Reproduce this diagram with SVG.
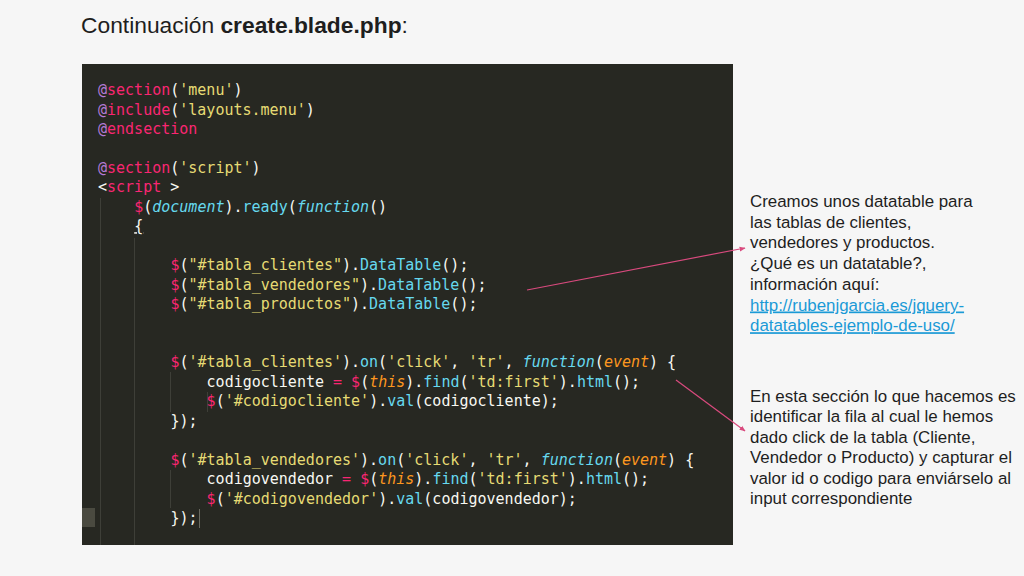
<svg xmlns="http://www.w3.org/2000/svg" width="1024" height="576" viewBox="0 0 1024 576">
<style>
.code{font-family:"DejaVu Sans Mono","Liberation Mono",monospace;font-size:15px;fill:#f8f8f2}
.p{fill:#f92672}.y{fill:#e6db74}.c{fill:#66d9ef}.ci{fill:#66d9ef;font-style:italic}.o{fill:#fd971f;font-style:italic}.a{fill:#b57bd6}
.note{font-family:"Liberation Sans",Arial,sans-serif;font-size:16.9px;fill:#1e1e1e}
.link{fill:#1b9ad6;text-decoration:underline}
.guide{stroke:#3e3f38;stroke-width:1}
.conn{stroke:#d94a7e;stroke-width:1.2;fill:none}
</style>
<defs>
<marker id="ah" viewBox="0 0 10 10" refX="9" refY="5" markerWidth="6" markerHeight="6" orient="auto" markerUnits="userSpaceOnUse">
<path d="M0,1 L10,5 L0,9 z" fill="#d94a7e"/>
</marker>
</defs>
<rect width="1024" height="576" fill="#f6f6f6"/>
<g id="title">
<text x="81" y="33" font-family="'Liberation Sans',Arial,sans-serif" font-size="22.8" fill="#1e1e1e">Continuación <tspan font-weight="bold">create.blade.php</tspan>:</text>
</g>
<g id="code-panel">
<rect x="82" y="64" width="651" height="481" fill="#272822"/>
<line class="guide" x1="100.5" y1="198" x2="100.5" y2="545"/>
<line class="guide" x1="134.5" y1="238" x2="134.5" y2="545"/>
<line class="guide" x1="170.5" y1="372" x2="170.5" y2="412"/>
<line class="guide" x1="170.5" y1="470" x2="170.5" y2="508"/>
<line class="guide" x1="207.5" y1="392" x2="207.5" y2="412"/>
<rect x="82" y="508" width="13" height="19" fill="#4a4a40"/>
<line x1="199.5" y1="509" x2="199.5" y2="528" stroke="#6a6a60" stroke-width="1"/>
<text class="code" xml:space="preserve">
<tspan x="98" y="95"><tspan class="a">@</tspan><tspan class="p">section</tspan>(<tspan class="y">'menu'</tspan>)</tspan>
<tspan x="98" y="114.5"><tspan class="a">@</tspan><tspan class="p">include</tspan>(<tspan class="y">'layouts.menu'</tspan>)</tspan>
<tspan x="98" y="134"><tspan class="a">@</tspan><tspan class="p">endsection</tspan></tspan>
<tspan x="98" y="172.8"><tspan class="a">@</tspan><tspan class="p">section</tspan>(<tspan class="y">'script'</tspan>)</tspan>
<tspan x="98" y="192.3">&lt;<tspan class="p">script</tspan> &gt;</tspan>
<tspan x="134.2" y="211.7"><tspan class="p">$</tspan>(<tspan class="ci">document</tspan>).<tspan class="c">ready</tspan>(<tspan class="ci">function</tspan>()</tspan>
<tspan x="134.2" y="231.2" text-decoration="underline">{</tspan>
<tspan x="170.4" y="270"><tspan class="p">$</tspan>(<tspan class="y">"#tabla_clientes"</tspan>).<tspan class="c">DataTable</tspan>();</tspan>
<tspan x="170.4" y="289.5"><tspan class="p">$</tspan>(<tspan class="y">"#tabla_vendedores"</tspan>).<tspan class="c">DataTable</tspan>();</tspan>
<tspan x="170.4" y="309"><tspan class="p">$</tspan>(<tspan class="y">"#tabla_productos"</tspan>).<tspan class="c">DataTable</tspan>();</tspan>
<tspan x="170.4" y="367.3"><tspan class="p">$</tspan>(<tspan class="y">'#tabla_clientes'</tspan>).<tspan class="c">on</tspan>(<tspan class="y">'click'</tspan>, <tspan class="y">'tr'</tspan>, <tspan class="ci">function</tspan>(<tspan class="o">event</tspan>) {</tspan>
<tspan x="206.6" y="386.8">codigocliente <tspan class="p">=</tspan> <tspan class="p">$</tspan>(<tspan class="o">this</tspan>).<tspan class="c">find</tspan>(<tspan class="y">'td:first'</tspan>).<tspan class="c">html</tspan>();</tspan>
<tspan x="206.6" y="406.2"><tspan class="p">$</tspan>(<tspan class="y">'#codigocliente'</tspan>).<tspan class="c">val</tspan>(codigocliente);</tspan>
<tspan x="170.4" y="425.7">});</tspan>
<tspan x="170.4" y="464.6"><tspan class="p">$</tspan>(<tspan class="y">'#tabla_vendedores'</tspan>).<tspan class="c">on</tspan>(<tspan class="y">'click'</tspan>, <tspan class="y">'tr'</tspan>, <tspan class="ci">function</tspan>(<tspan class="o">event</tspan>) {</tspan>
<tspan x="206.6" y="484">codigovendedor <tspan class="p">=</tspan> <tspan class="p">$</tspan>(<tspan class="o">this</tspan>).<tspan class="c">find</tspan>(<tspan class="y">'td:first'</tspan>).<tspan class="c">html</tspan>();</tspan>
<tspan x="206.6" y="503.5"><tspan class="p">$</tspan>(<tspan class="y">'#codigovendedor'</tspan>).<tspan class="c">val</tspan>(codigovendedor);</tspan>
<tspan x="170.4" y="523">});</tspan>
</text>
</g>
<g id="note-datatable">
<text class="note">
<tspan x="750" y="207">Creamos unos datatable para</tspan>
<tspan x="750" y="227.7">las tablas de clientes,</tspan>
<tspan x="750" y="248.4">vendedores y productos.</tspan>
<tspan x="750" y="269.1">¿Qué es un datatable?,</tspan>
<tspan x="750" y="289.8">información aquí:</tspan>
<tspan x="750" y="310.5" class="link">http://rubenjgarcia.es/jquery-</tspan>
<tspan x="750" y="331.2" class="link">datatables-ejemplo-de-uso/</tspan>
</text>
</g>
<g id="note-click">
<text class="note">
<tspan x="750" y="401.5">En esta sección lo que hacemos es</tspan>
<tspan x="750" y="422">identificar la fila al cual le hemos</tspan>
<tspan x="750" y="442.5">dado click de la tabla (Cliente,</tspan>
<tspan x="750" y="463">Vendedor o Producto) y capturar el</tspan>
<tspan x="750" y="483.5">valor id o codigo para enviárselo al</tspan>
<tspan x="750" y="504">input correspondiente</tspan>
</text>
</g>
<g id="connectors">
<line class="conn" x1="527" y1="290" x2="745" y2="248" marker-end="url(#ah)"/>
<line class="conn" x1="676" y1="380" x2="745" y2="431" marker-end="url(#ah)"/>
</g>
</svg>
